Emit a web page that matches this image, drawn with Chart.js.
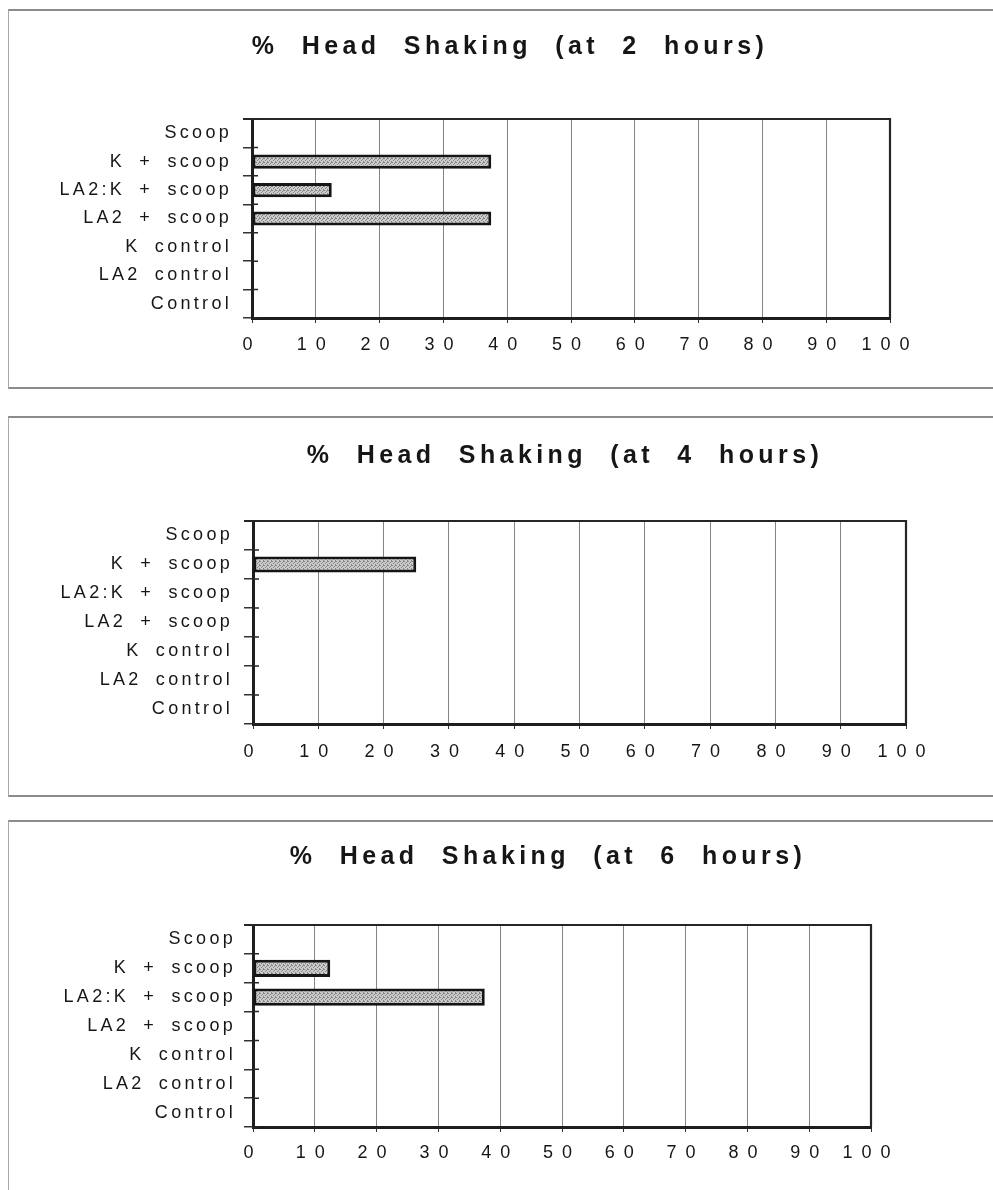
<!DOCTYPE html>
<html>
<head>
<meta charset="utf-8">
<script src="https://cdn.jsdelivr.net/npm/chart.js@4/dist/chart.umd.min.js"></script>
<style>
  html, body { margin: 0; padding: 0; background: #fff; }
  #page { position: relative; width: 993px; height: 1190px; overflow: hidden; }
  .panel { position: absolute; left: 8px; right: 0; box-sizing: border-box;
           border-top: 2px solid #8c8c8c; border-left: 1px solid #a8a8a8; border-bottom: 2px solid #8c8c8c; }
  .panel.open { border-bottom: none; }
  canvas { position: absolute; left: 8px; }
</style>
</head>
<body>
<div id="page">
  <div class="panel" style="top:9px;height:380px"></div>
  <div class="panel" style="top:416px;height:381px"></div>
  <div class="panel open" style="top:820px;height:370px"></div>
  <canvas id="c2h" width="985" height="370" style="top:10px"></canvas>
  <canvas id="c4h" width="985" height="370" style="top:417px"></canvas>
  <canvas id="c6h" width="985" height="370" style="top:821px"></canvas>
</div>
<script>
// Treatment groups, listed top to bottom
const categories = ['Scoop', 'K + scoop', 'LA2:K + scoop', 'LA2 + scoop', 'K control', 'LA2 control', 'Control'];

// % of animals head shaking at each time point
const headShaking2h = [0, 37.5, 12.5, 37.5, 0, 0, 0];
const headShaking4h = [0, 25, 0, 0, 0, 0, 0];
const headShaking6h = [0, 12.5, 37.5, 0, 0, 0, 0];

const chartTitles = ['% Head Shaking (at 2 hours)', '% Head Shaking (at 4 hours)', '% Head Shaking (at 6 hours)'];

// value axis range and step
const axisMin = 0;
const axisMax = 100;
const axisStep = 10;

// Per-panel layout (canvas-relative pixels)
const panels = [
  { id: 'c2h', data: headShaking2h, title: chartTitles[0], titleCenter: 502,
    padR: 103, titleTop: 23, titleBottom: 58, plotLeft: 244, plotBottom: 308, yPad: 11, xPad: 11.5, bar: 0.5 },
  { id: 'c4h', data: headShaking4h, title: chartTitles[1], titleCenter: 557,
    padR: 87, titleTop: 25, titleBottom: 51, plotLeft: 245, plotBottom: 307, yPad: 11, xPad: 12.5, bar: 0.55 },
  { id: 'c6h', data: headShaking6h, title: chartTitles[2], titleCenter: 540,
    padR: 122, titleTop: 22, titleBottom: 54, plotLeft: 245, plotBottom: 306, yPad: 8, xPad: 10.5, bar: 0.6 }
];
const PAD_LEFT = 20;
const CANVAS_H = 370;
const TICK_LEN = 5;
const VAL_SIZE = 18;
const CAT_SIZE = 18;
const TITLE_SIZE = 25;
const LINE_H = 1.2;

const INK = '#161616';
const TITLE_FAMILY = 'Arial, "Liberation Sans", sans-serif';
const CAT_FAMILY = 'Arial, sans-serif';
const VAL_FAMILY = '"Liberation Sans", sans-serif';

// Wide, typewriter-like spacing for the three kinds of text
function spacingFor(font) {
  if (/bold|700/.test(font)) return ['4.4px', '12px'];
  if (/Liberation/.test(font)) return ['9px', '0px'];
  return ['3.3px', '6px'];
}

function spacedContext(canvas) {
  const ctx = canvas.getContext('2d');
  const desc = Object.getOwnPropertyDescriptor(CanvasRenderingContext2D.prototype, 'font');
  Object.defineProperty(ctx, 'font', {
    configurable: true,
    get() { return desc.get.call(this); },
    set(v) {
      desc.set.call(this, v);
      const [ls, ws] = spacingFor(v);
      this.letterSpacing = ls;
      this.wordSpacing = ws;
    }
  });
  return ctx;
}

// Grey stipple used for the bar fill
function stipple(ctx) {
  const c = document.createElement('canvas');
  c.width = 4; c.height = 4;
  const g = c.getContext('2d');
  g.fillStyle = '#cbcbcb';
  g.fillRect(0, 0, 4, 4);
  g.fillStyle = '#858585';
  [[0, 0], [2, 1], [1, 2], [3, 3], [3, 0]].forEach(([x, y]) => g.fillRect(x, y, 1, 1));
  return ctx.createPattern(c, 'repeat');
}

// Places each title's centre where the panel wants it
const titlePlacement = {
  id: 'titlePlacement',
  afterLayout(chart, args, opts) {
    const t = chart.titleBlock;
    if (!t) return;
    const dx = opts.center - (t.left + t.right) / 2;
    t.left += dx;
    t.right += dx;
  }
};

// Closes the plot frame on the top and right and adds the inner half of the category ticks
const framePlugin = {
  id: 'plotFrame',
  afterDatasetsDraw(chart) {
    const { ctx, chartArea: a } = chart;
    const y = chart.scales.y;
    ctx.save();
    ctx.strokeStyle = '#262626';
    ctx.lineWidth = 2.2;
    ctx.beginPath();
    ctx.moveTo(a.left - 9, a.top);
    ctx.lineTo(a.right, a.top);
    ctx.lineTo(a.right, a.bottom);
    ctx.stroke();
    ctx.lineWidth = 1.5;
    ctx.beginPath();
    for (let i = 0; i <= categories.length; i++) {
      const py = y.getPixelForValue(i - 0.5);
      ctx.moveTo(a.left, py);
      ctx.lineTo(a.left + 6, py);
    }
    ctx.stroke();
    ctx.restore();
  }
};

panels.forEach(p => {
  const canvas = document.getElementById(p.id);
  const ctx = spacedContext(canvas);
  // room left under the value axis: tick + label line + padding on both sides of the label
  const axisH = TICK_LEN + VAL_SIZE * LINE_H + 2 * p.xPad;
  const padB = CANVAS_H - p.plotBottom - axisH;
  const titleH = TITLE_SIZE * LINE_H;
  new Chart(ctx, {
    type: 'bar',
    data: {
      labels: categories,
      datasets: [{
        data: p.data,
        backgroundColor: stipple(ctx),
        borderColor: '#151515',
        borderWidth: 3,
        borderSkipped: false,
        barPercentage: p.bar,
        categoryPercentage: 1
      }]
    },
    options: {
      indexAxis: 'y',
      responsive: false,
      animation: false,
      devicePixelRatio: 1,
      layout: { padding: { left: PAD_LEFT, right: p.padR, top: 0, bottom: padB } },
      plugins: {
        legend: { display: false },
        tooltip: { enabled: false },
        titlePlacement: { center: p.titleCenter },
        title: {
          display: true,
          text: p.title,
          color: INK,
          font: { family: TITLE_FAMILY, size: TITLE_SIZE, weight: 'bold', lineHeight: LINE_H },
          padding: { top: p.titleTop + 14 - titleH / 2, bottom: p.titleBottom + 14 - titleH / 2 }
        }
      },
      scales: {
        x: {
          type: 'linear',
          min: axisMin,
          max: axisMax,
          ticks: {
            stepSize: axisStep,
            color: INK,
            padding: p.xPad,
            autoSkip: false,
            maxRotation: 0,
            minRotation: 0,
            font: { family: VAL_FAMILY, size: VAL_SIZE, lineHeight: LINE_H }
          },
          grid: { color: '#858585', lineWidth: 1, tickLength: TICK_LEN, tickColor: '#333' },
          border: { display: true, color: '#1e1e1e', width: 3 }
        },
        y: {
          afterFit(scale) { scale.width = p.plotLeft - PAD_LEFT; },
          ticks: {
            color: INK,
            padding: p.yPad,
            font: { family: CAT_FAMILY, size: CAT_SIZE, lineHeight: LINE_H }
          },
          grid: { offset: true, drawOnChartArea: false, tickLength: 9, color: '#333', lineWidth: 1.5 },
          border: { display: true, color: '#1e1e1e', width: 3 }
        }
      }
    },
    plugins: [titlePlacement, framePlugin]
  });
});
</script>
</body>
</html>
